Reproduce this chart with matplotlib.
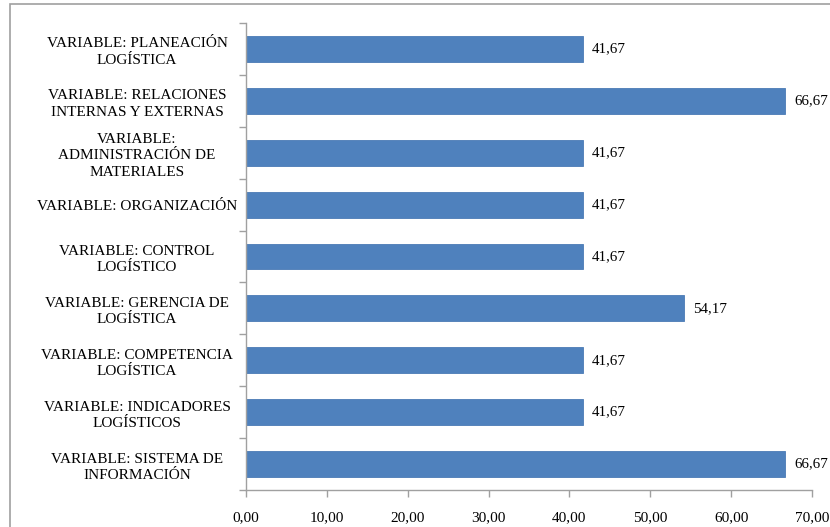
import matplotlib
matplotlib.use("Agg")
import matplotlib.pyplot as plt
from matplotlib.patches import Rectangle
from matplotlib.ticker import FuncFormatter, MultipleLocator

categories = [
    "VARIABLE: PLANEACIÓN\nLOGÍSTICA",
    "VARIABLE: RELACIONES\nINTERNAS Y EXTERNAS",
    "VARIABLE:\nADMINISTRACIÓN DE\nMATERIALES",
    "VARIABLE: ORGANIZACIÓN",
    "VARIABLE: CONTROL\nLOGÍSTICO",
    "VARIABLE: GERENCIA DE\nLOGÍSTICA",
    "VARIABLE: COMPETENCIA\nLOGÍSTICA",
    "VARIABLE: INDICADORES\nLOGÍSTICOS",
    "VARIABLE: SISTEMA DE\nINFORMACIÓN",
]
values = [41.67, 66.67, 41.67, 41.67, 41.67, 54.17, 41.67, 41.67, 66.67]

plt.rcParams['font.family'] = ['Liberation Serif', 'DejaVu Serif']

W, H = 830, 527
fig = plt.figure(figsize=(W / 100, H / 100), dpi=100)
fig.patch.set_facecolor('white')

# outer frame
fig.patches.append(Rectangle((10 / W, -0.1), 1.0, 1 - 4 / H + 0.1,
                             transform=fig.transFigure, fill=False,
                             edgecolor='#a0a0a0', linewidth=1.2))

ax = fig.add_axes([246 / W, 1 - 490 / H, (812 - 246) / W, (490 - 23) / H])
n = len(categories)
ypos = list(range(n))
ax.barh(ypos, values, height=0.5, color='#4f81bd', edgecolor='#4a7ab5', linewidth=0.6)
ax.set_ylim(n - 0.5, -0.5)
ax.set_xlim(0, 70)
ax.xaxis.set_major_locator(MultipleLocator(10))
ax.xaxis.set_major_formatter(FuncFormatter(lambda v, p: f"{v:.2f}".replace('.', ',')))

ax.set_yticks(ypos)
ax.set_yticklabels(categories, ha='center', multialignment='center', linespacing=1.32)
ax.tick_params(axis='y', length=0, pad=78.5, labelsize=11)
ax.set_yticks([i - 0.5 for i in range(n + 1)], minor=True)
ax.tick_params(axis='y', which='minor', length=5, color='#a0a0a0', width=1)
ax.tick_params(axis='x', length=5, color='#a0a0a0', width=1, labelsize=11, pad=10)

for s in ['top', 'right']:
    ax.spines[s].set_visible(False)
for s in ['left', 'bottom']:
    ax.spines[s].set_color('#a0a0a0')
    ax.spines[s].set_linewidth(1)

for y, v in zip(ypos, values):
    ax.text(v + 1.1, y, f"{v:.2f}".replace('.', ','), va='center', ha='left', fontsize=10.8)

fig.savefig('out.png', dpi=100)
